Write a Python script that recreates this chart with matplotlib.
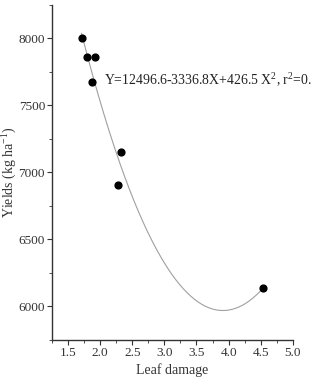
import matplotlib
matplotlib.use("Agg")
import matplotlib.pyplot as plt
import numpy as np
from matplotlib.ticker import MultipleLocator

plt.rcParams['font.family'] = ['Liberation Serif', 'DejaVu Serif']
plt.rcParams['mathtext.fontset'] = 'custom'
plt.rcParams['mathtext.rm'] = 'Liberation Serif'
plt.rcParams['mathtext.it'] = 'Liberation Serif:italic'

leaf_damage = [1.71, 1.79, 1.92, 1.87, 2.33, 2.28, 4.54]
yields = [8000, 7863, 7860, 7673, 7156, 6908, 6140]
coef = [12496.6, -3336.8, 426.5]
xticks = [1.5, 2.0, 2.5, 3.0, 3.5, 4.0, 4.5, 5.0]
yticks = [6000, 6500, 7000, 7500, 8000]

fig = plt.figure(figsize=(3.16, 3.79), dpi=100)
ax = fig.add_axes([0.1646, 0.1029, 0.762, 0.884])

xs = np.linspace(min(leaf_damage), max(leaf_damage), 200)
ys = coef[0] + coef[1] * xs + coef[2] * xs ** 2
ax.plot(xs, ys, color='#a0a0a0', lw=0.8, zorder=1)
ax.scatter(leaf_damage, yields, s=24, color='black', zorder=2)

ax.set_xlim(1.25, 5.0)
ax.set_ylim(5750, 8250)
ax.set_xticks(xticks)
ax.set_yticks(yticks)
ax.xaxis.set_minor_locator(MultipleLocator(0.25))
ax.yaxis.set_minor_locator(MultipleLocator(250))
ax.set_xticklabels([f"{v:.1f}" for v in xticks])
ax.set_yticklabels([str(v) for v in yticks])

for s in ['top', 'right']:
    ax.spines[s].set_visible(False)
for s in ['left', 'bottom']:
    ax.spines[s].set_color('#333333')
    ax.spines[s].set_linewidth(1.0)

ax.tick_params(which='major', length=3.5, width=0.8, color='#333333',
               labelsize=9.5, labelcolor='#333333', pad=1.5)
ax.tick_params(which='minor', length=2, width=0.6, color='#333333')

ax.set_xlabel('Leaf damage', fontsize=10, color='#333333', labelpad=3)
ax.set_ylabel('Yields (kg ha$^{-1}$)', fontsize=10, color='#333333', labelpad=0)

ax.text(2.06, 7690, 'Y=12496.6-3336.8X+426.5 X$^{2}$, r$^{2}$=0.',
        fontsize=9.9, color='#222222', va='center', ha='left', clip_on=False)

fig.savefig('out.png', dpi=100)
